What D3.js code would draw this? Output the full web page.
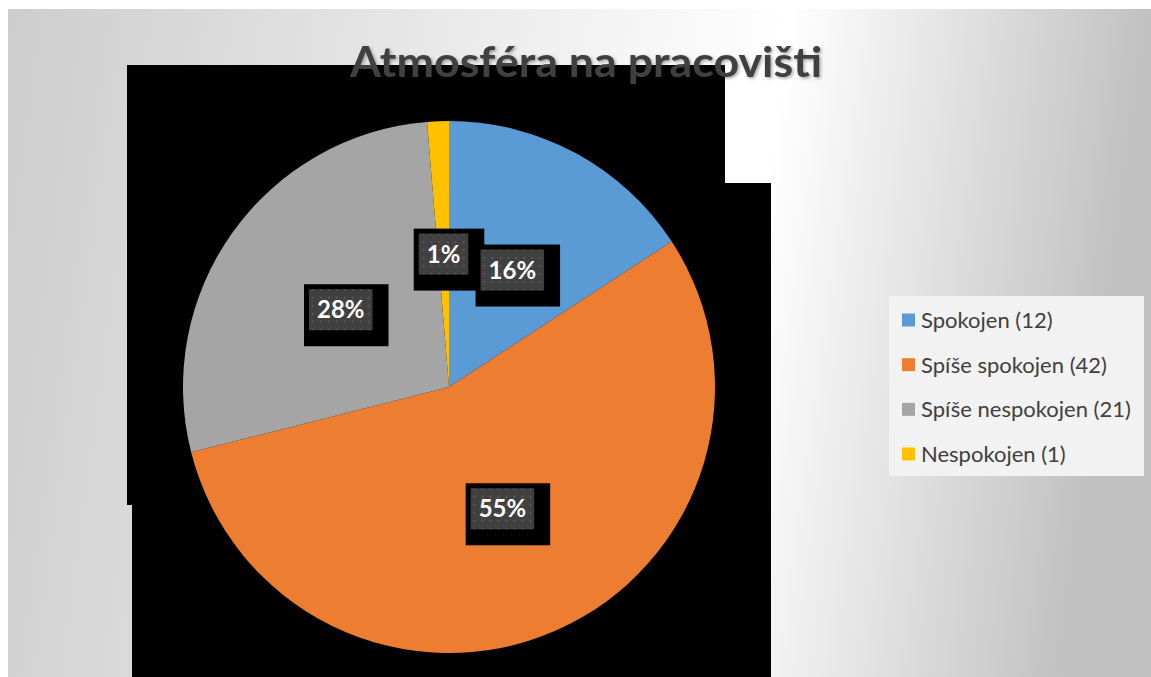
<!DOCTYPE html>
<html>
<head>
<meta charset="utf-8">
<script src="https://cdn.jsdelivr.net/npm/d3@7"></script>
<style>
  html, body { margin: 0; padding: 0; background: #ffffff; }
  svg { display: block; }
</style>
</head>
<body>
<svg id="chart" width="1151" height="677"></svg>
<script>
// Survey answers: workplace atmosphere
const categories = ["Spokojen", "Spíše spokojen", "Spíše nespokojen", "Nespokojen"];
const counts = [12, 42, 21, 1];
const sliceColors = ["#5b9bd5", "#ed7d31", "#a5a5a5", "#ffc000"];
const chartTitle = "Atmosféra na pracovišti";

const W = 1151, H = 677;
const svg = d3.select("#chart");
const defs = svg.append("defs");

// Chart-area fill: light band fading to grey toward both sides
const bg = defs.append("linearGradient")
  .attr("id", "bgGrad")
  .attr("x1", "0%").attr("y1", "0%").attr("x2", "100%").attr("y2", "8%");
bg.append("stop").attr("offset", "0%").attr("stop-color", "#cdcdcd");
bg.append("stop").attr("offset", "68%").attr("stop-color", "#ffffff");
bg.append("stop").attr("offset", "100%").attr("stop-color", "#c0c0c0");

// Dotted texture used inside the value labels
const pat = defs.append("pattern")
  .attr("id", "dots").attr("patternUnits", "userSpaceOnUse")
  .attr("width", 8).attr("height", 8);
pat.append("rect").attr("width", 8).attr("height", 8).attr("fill", "#404040");
pat.append("rect").attr("x", 3).attr("y", 3).attr("width", 2).attr("height", 2).attr("fill", "#575757");

// Soft shadow for the title
const sh = defs.append("filter").attr("id", "titleShadow")
  .attr("x", "-10%").attr("y", "-30%").attr("width", "120%").attr("height", "160%");
sh.append("feDropShadow").attr("dx", 1.5).attr("dy", 1.5).attr("stdDeviation", 1.5)
  .attr("flood-color", "#000").attr("flood-opacity", 0.35);

// Chart area
svg.append("rect")
  .attr("x", 8).attr("y", 9).attr("width", W - 8).attr("height", H - 9)
  .attr("fill", "url(#bgGrad)");

// Pie geometry
const cx = 449, cy = 387, radius = 266;

// Dark backdrop panels behind the plot
const plot = svg.append("g");
plot.append("rect").attr("x", 725).attr("y", 65).attr("width", 46).attr("height", 118).attr("fill", "#ffffff");
plot.append("rect").attr("x", 127).attr("y", 65).attr("width", 598).attr("height", 440).attr("fill", "#000");
plot.append("rect").attr("x", 132).attr("y", 183).attr("width", 639).attr("height", H - 183).attr("fill", "#000");

const total = d3.sum(counts);
const pie = d3.pie().sort(null).value(d => d);
const arcs = pie(counts);
const arc = d3.arc().innerRadius(0).outerRadius(radius);
const color = d3.scaleOrdinal().domain(categories).range(sliceColors);
const pct = d3.format(".0%");

const pieG = svg.append("g").attr("transform", `translate(${cx},${cy})`);
pieG.selectAll("path.slice")
  .data(arcs)
  .join("path")
  .attr("class", "slice")
  .attr("d", arc)
  .attr("fill", (d, i) => color(categories[i]));

// Value labels: shadows first, then boxes with text on top
const labelFont = "Lato, 'Open Sans', sans-serif";
const shadowLayer = pieG.append("g");
const labelLayer = pieG.append("g");

const labG = labelLayer.selectAll("g.lab")
  .data(arcs)
  .join("g")
  .attr("class", "lab")
  .attr("transform", d => `translate(${arc.centroid(d)})`);

labG.each(function(d) {
  const g = d3.select(this);
  const box = g.append("rect").attr("fill", "url(#dots)");
  const t = g.append("text")
    .attr("text-anchor", "middle")
    .attr("dy", "0.36em")
    .attr("fill", "#ffffff")
    .attr("font-family", labelFont)
    .attr("font-weight", "bold")
    .attr("font-size", 24)
    .text(pct(d.value / total));
  const tw = t.node().getComputedTextLength();
  const bw = tw + 16, bh = 41;
  box.attr("x", -bw / 2).attr("y", -bh / 2).attr("width", bw).attr("height", bh);
  const [lx, ly] = arc.centroid(d);
  shadowLayer.append("rect")
    .attr("x", lx - bw / 2 - 5).attr("y", ly - bh / 2 - 5)
    .attr("width", bw + 21).attr("height", bh + 21)
    .attr("fill", "#000");
});

// Title
svg.append("text")
  .attr("x", 586).attr("y", 77)
  .attr("text-anchor", "middle")
  .attr("font-family", labelFont)
  .attr("font-weight", "bold")
  .attr("font-size", 42)
  .attr("textLength", 472)
  .attr("lengthAdjust", "spacingAndGlyphs")
  .attr("fill", "#404040")
  .attr("filter", "url(#titleShadow)")
  .text(chartTitle);

// Legend
const legend = svg.append("g");
legend.append("rect")
  .attr("x", 889).attr("y", 296).attr("width", 255).attr("height", 180)
  .attr("fill", "#f2f2f2");
const rowY = d3.scalePoint().domain(categories).range([320, 454]);
const items = legend.selectAll("g.item")
  .data(categories)
  .join("g")
  .attr("class", "item")
  .attr("transform", d => `translate(902,${rowY(d)})`);
items.append("rect")
  .attr("x", 0).attr("y", -6.5).attr("width", 13).attr("height", 13)
  .attr("fill", d => color(d));
items.append("text")
  .attr("x", 19).attr("dy", "0.36em")
  .attr("font-family", labelFont)
  .attr("font-size", 22)
  .attr("fill", "#404040")
  .text((d, i) => `${d} (${counts[i]})`);
</script>
</body>
</html>
